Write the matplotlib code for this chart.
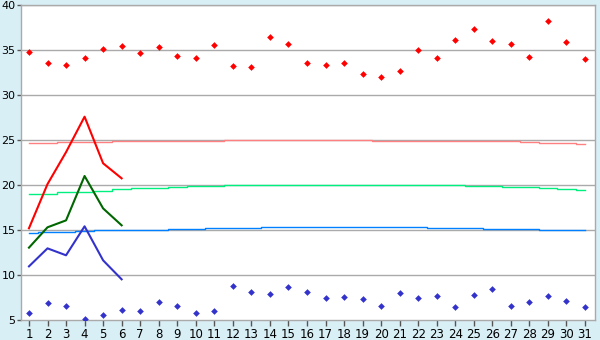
"""Daily temperatures for one month: observed extremes, forecast and normals."""

import matplotlib

matplotlib.use("Agg")
import matplotlib.pyplot as plt

DAYS = list(range(1, 32))

# daily max / min (diamonds)
T_MAX = [34.74, 33.52, 33.30, 34.07, 35.07, 35.40, 34.63, 35.30, 34.30, 34.07,
         35.52, 33.19, 33.07, 36.40, 35.63, 33.52, 33.30, 33.52, 32.30, 31.96,
         32.63, 34.96, 34.07, 36.07, 37.30, 35.96, 35.63, 34.19, 38.19, 35.85,
         33.96]
T_MIN = [5.74, 6.85, 6.52, 5.07, 5.52, 6.07, 5.96, 6.96, 6.52, 5.74,
         5.96, 8.74, 8.07, 7.85, 8.63, 8.07, 7.41, 7.52, 7.30, 6.52,
         7.96, 7.41, 7.63, 6.41, 7.74, 8.41, 6.52, 6.96, 7.63, 7.07,
         6.41]

# first six days, solid lines
LINE_DAYS = [1, 2, 3, 4, 5, 6]
LINE_HIGH = [15.19, 20.1, 23.65, 27.59, 22.41, 20.74]
LINE_MID = [13.04, 15.30, 16.07, 21.0, 17.40, 15.52]
LINE_LOW = [10.96, 12.96, 12.19, 15.41, 11.63, 9.52]

# normals (step lines)
NORM_MAX = [24.65, 24.65, 24.77, 24.77, 24.77, 24.93, 24.93, 24.93, 24.93, 24.93,
            24.93, 25.05, 25.05, 25.05, 25.05, 25.05, 25.05, 25.05, 25.05, 24.93,
            24.93, 24.93, 24.93, 24.93, 24.93, 24.85, 24.85, 24.77, 24.65, 24.65,
            24.55]
NORM_MEAN = [19.03, 19.03, 19.19, 19.19, 19.37, 19.55, 19.67, 19.67, 19.78, 19.89,
             19.89, 20.0, 20.0, 20.0, 20.0, 20.0, 20.0, 20.0, 20.0, 20.0,
             20.0, 20.0, 20.0, 20.0, 19.89, 19.89, 19.78, 19.78, 19.67, 19.56,
             19.44]
NORM_MIN = [14.63, 14.74, 14.74, 14.85, 14.96, 14.96, 14.96, 14.96, 15.07, 15.07,
            15.19, 15.19, 15.19, 15.30, 15.30, 15.30, 15.30, 15.30, 15.30, 15.30,
            15.30, 15.30, 15.19, 15.19, 15.19, 15.07, 15.07, 15.07, 14.96, 14.96,
            14.96]

BG = "#d9eff6"
GRID = "#aaaaaa"


def main() -> None:
    fig = plt.figure(figsize=(6.0, 3.4), dpi=100, facecolor=BG)
    ax = fig.add_axes([21 / 600, 20 / 340, 574 / 600, 315 / 340])
    ax.set_facecolor("white")

    for y in range(10, 41, 5):
        ax.axhline(y, color=GRID, lw=1.0, zorder=1)

    ax.step(DAYS, NORM_MAX, where="mid", color="#ff8080", lw=1.0, zorder=2)
    ax.step(DAYS, NORM_MEAN, where="mid", color="#00f080", lw=1.0, zorder=2)
    ax.step(DAYS, NORM_MIN, where="mid", color="#0080ff", lw=1.0, zorder=2)

    ax.plot(LINE_DAYS, LINE_HIGH, color="#ff0000", lw=1.5, zorder=3)
    ax.plot(LINE_DAYS, LINE_MID, color="#006600", lw=1.5, zorder=3)
    ax.plot(LINE_DAYS, LINE_LOW, color="#3333cc", lw=1.5, zorder=3)

    ax.plot(DAYS, T_MAX, "D", color="#ff0000", ms=3.4, mew=0, zorder=4)
    ax.plot(DAYS, T_MIN, "D", color="#3333cc", ms=3.4, mew=0, zorder=4)

    ax.set_xlim(0.57, 31.54)
    ax.set_ylim(5, 40)
    ax.set_xticks(DAYS)
    ax.set_yticks(range(5, 41, 5))
    ax.tick_params(axis="x", labelsize=8.5, colors="#555555", labelcolor="black",
                   length=4, width=1, pad=2)
    ax.tick_params(axis="y", labelsize=8, colors="#555555", labelcolor="black",
                   length=3, width=1, pad=1)
    for name, sp in ax.spines.items():
        sp.set_color(GRID)
        sp.set_linewidth(1.0)

    fig.savefig("out.png", dpi=100, facecolor=BG)
    plt.close(fig)


if __name__ == "__main__":
    main()
